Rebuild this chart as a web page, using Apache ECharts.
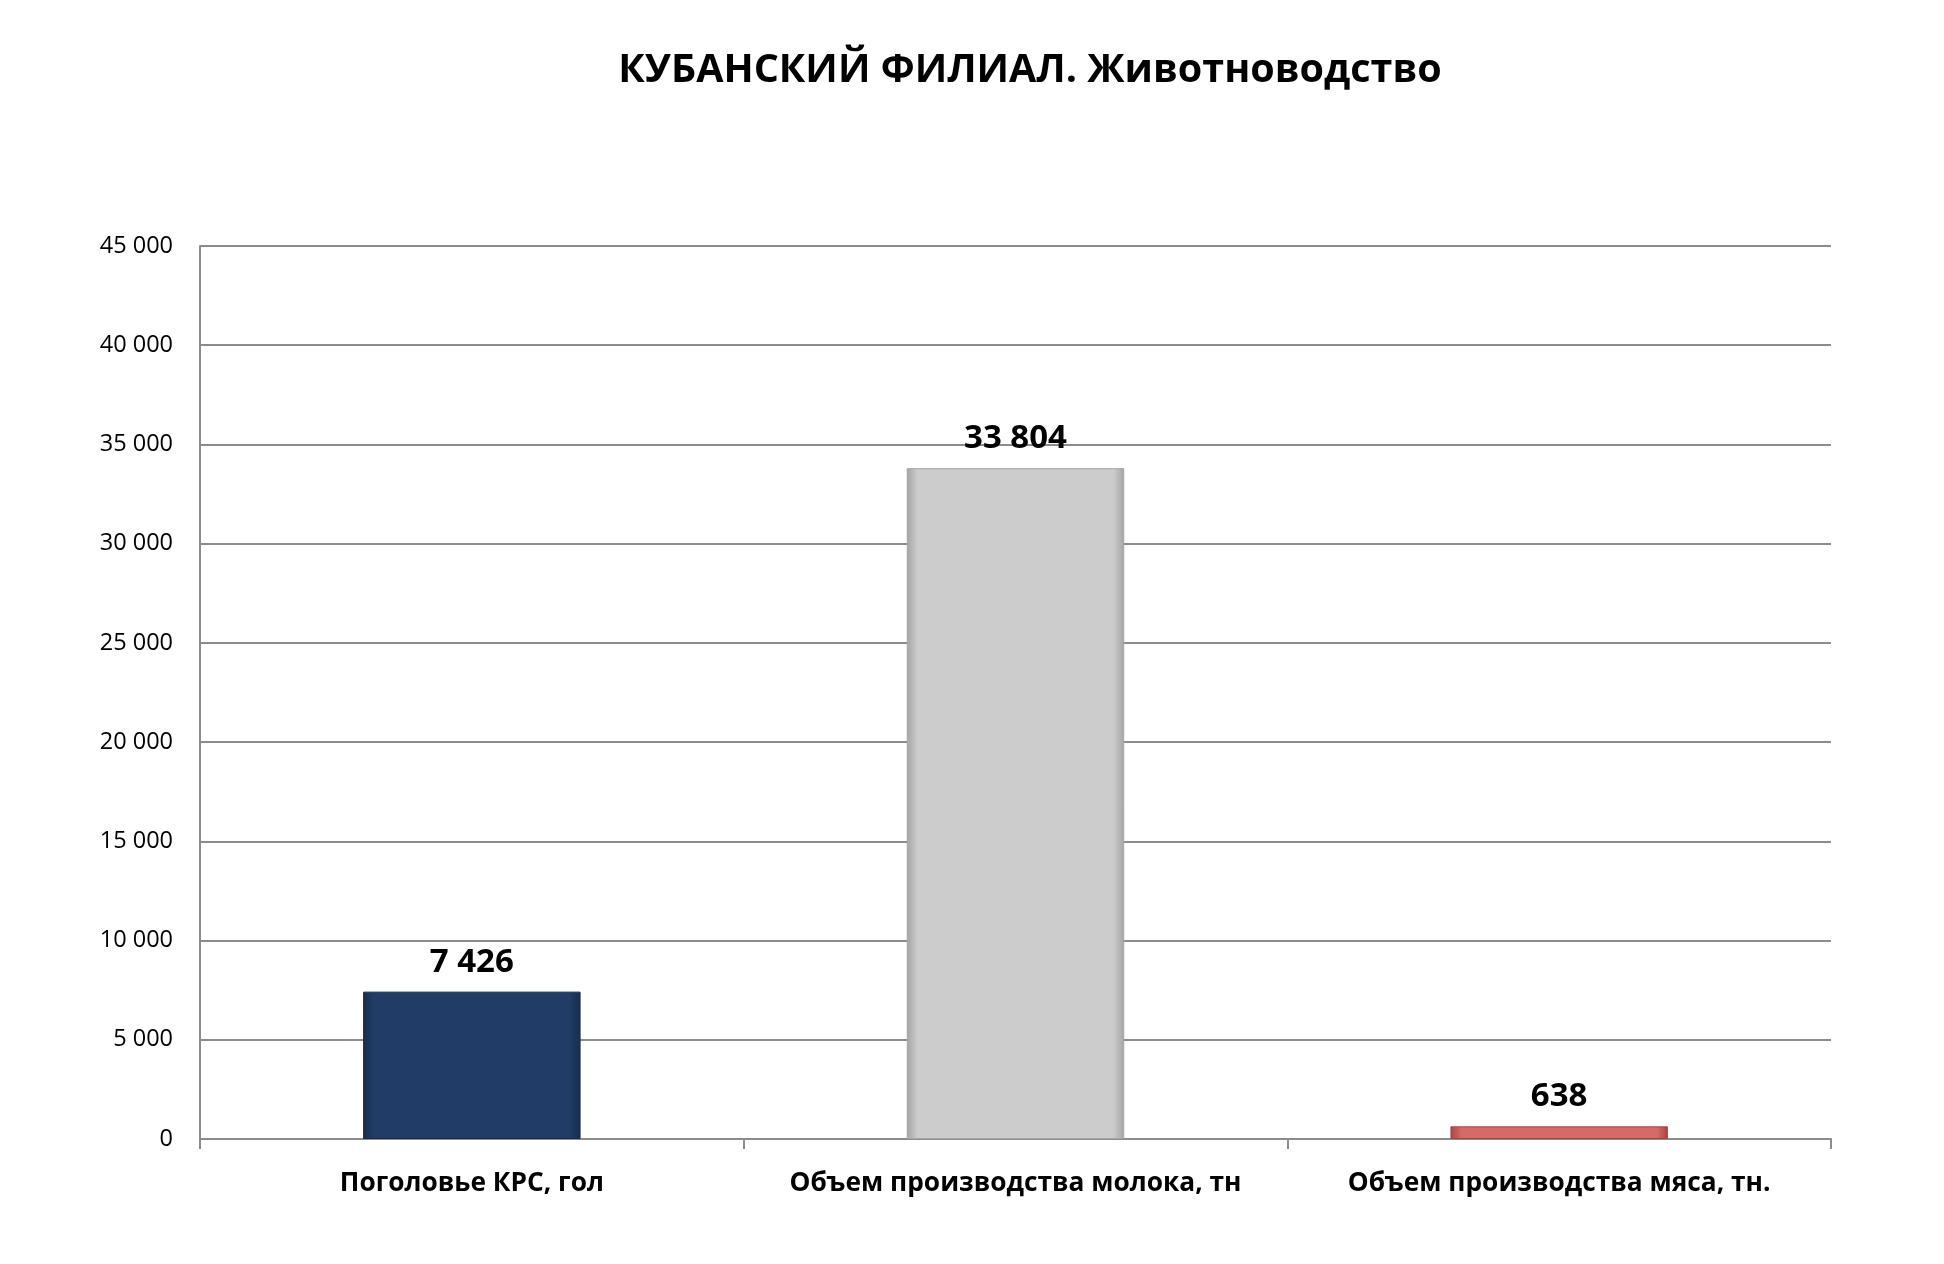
<!DOCTYPE html>
<html lang="ru">
<head>
    <meta charset="utf-8">
    <title>КУБАНСКИЙ ФИЛИАЛ. Животноводство</title>
    <script src="https://cdn.jsdelivr.net/npm/echarts@6/dist/echarts.min.js"></script>
    <style>
        html, body { margin: 0; padding: 0; background: #fff; }
        #main { width: 1944px; height: 1264px; }
    </style>
</head>
<body>
    <div id="main"></div>
    <script type="text/javascript">
        // data
        var categories = ['Поголовье КРС, гол', 'Объем производства молока, тн', 'Объем производства мяса, тн.'];
        var values = [7426, 33804, 638];
        var yTicks = [0, 45000, 5000]; // min, max, step

        // bar fills (edge, middle)
        var barColors = [
            ['#162c4d', '#213c66'],
            ['#a4a4a4', '#cccccc'],
            ['#a94343', '#d56a69']
        ];

        function spaced(v) {
            return String(v).replace(/\B(?=(\d{3})+(?!\d))/g, ' ');
        }

        function bevel(c) {
            return new echarts.graphic.LinearGradient(0, 0, 1, 0, [
                { offset: 0, color: c[0] },
                { offset: 0.05, color: c[1] },
                { offset: 0.95, color: c[1] },
                { offset: 1, color: c[0] }
            ]);
        }

        var myChart = echarts.init(document.getElementById('main'));
        var font = '"Open Sans", "Noto Sans", sans-serif';

        myChart.setOption({
            animation: false,
            backgroundColor: '#fff',
            textStyle: { fontFamily: font },
            title: {
                text: 'КУБАНСКИЙ ФИЛИАЛ. Животноводство',
                left: 1025,
                textAlign: 'center',
                top: 46,
                textStyle: { fontSize: 39.5, fontWeight: 'bold', color: '#000', fontFamily: font }
            },
            grid: { left: 200, right: 113, top: 246, bottom: 125, containLabel: false },
            xAxis: {
                type: 'category',
                data: categories,
                axisLine: { lineStyle: { color: '#8c8c8c', width: 2 } },
                axisTick: { show: true, interval: 0, length: 10, lineStyle: { color: '#8c8c8c', width: 2 } },
                axisLabel: {
                    interval: 0, hideOverlap: false, margin: 32,
                    fontSize: 26.3, fontWeight: 'bold', color: '#000', fontFamily: font
                }
            },
            yAxis: {
                type: 'value',
                min: yTicks[0],
                max: yTicks[1],
                interval: yTicks[2],
                axisLine: { show: true, lineStyle: { color: '#8c8c8c', width: 2 } },
                axisTick: { show: false },
                splitLine: { lineStyle: { color: '#8c8c8c', width: 2 } },
                axisLabel: { margin: 27, fontSize: 23.5, color: '#000', fontFamily: font, formatter: spaced }
            },
            series: [{
                type: 'bar',
                barWidth: '40%',
                data: values.map(function (v, i) {
                    return {
                        value: v,
                        itemStyle: { color: bevel(barColors[i]), borderColor: barColors[i][0], borderWidth: 1 }
                    };
                }),
                label: {
                    show: true,
                    position: 'top',
                    distance: 13,
                    fontSize: 33,
                    fontWeight: 'bold',
                    color: '#000',
                    fontFamily: font,
                    formatter: function (p) { return spaced(p.value); }
                }
            }]
        });
    </script>
</body>
</html>
